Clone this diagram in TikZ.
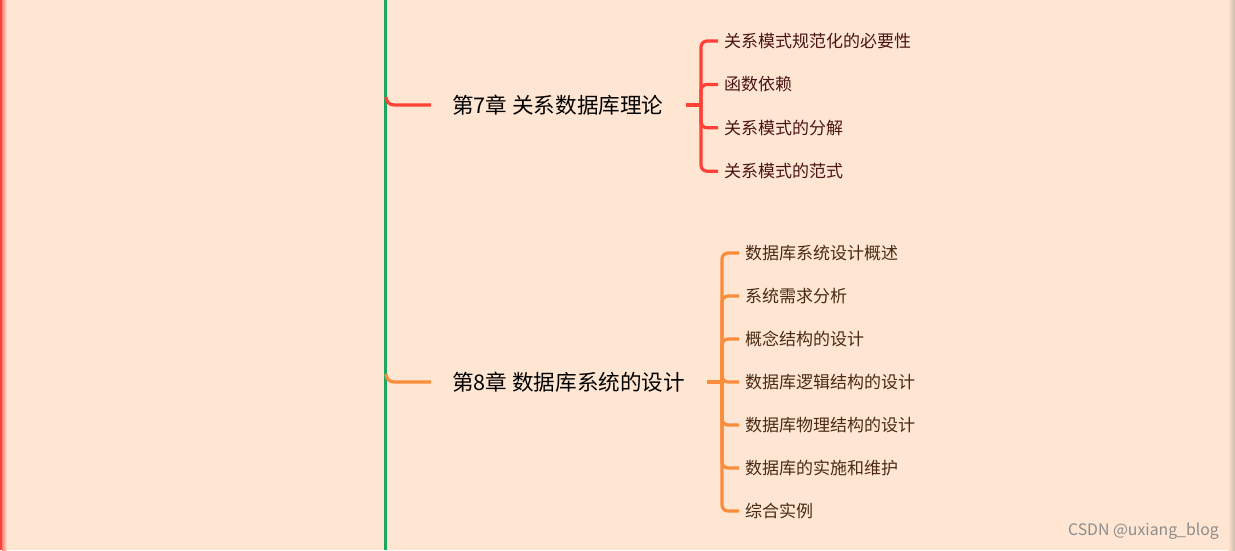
\documentclass[tikz,border=0pt]{standalone}
\usepackage{fontspec}
\newfontfamily\cjk{Noto Sans CJK SC}

\definecolor{bgpeach}{HTML}{FFE6D2}
\definecolor{trunkgreen}{HTML}{1BA85E}
\definecolor{redline}{HTML}{FF4136}
\definecolor{orangeline}{HTML}{FA8C3C}
\definecolor{redtext}{HTML}{4A1414}
\definecolor{orangetext}{HTML}{4A2A14}

\tikzset{
    chapter/.style={font=\cjk\fontsize{21.6}{26}\selectfont, anchor=west, inner sep=0pt, text=black},
    leaf/.style={font=\cjk\fontsize{17}{20}\selectfont, anchor=west, inner xsep=6pt, inner ysep=2pt},
    branch/.style={line width=3.2pt, rounded corners=8pt},
}

\begin{document}
\begin{tikzpicture}[x=1pt, y=-1pt]
    \useasboundingbox (0,0) rectangle (1235,550);
    \fill[bgpeach] (0,0) rectangle (1235,550);
    % 左右の縁
    \shade[left color=redline!60!bgpeach, right color=bgpeach] (2,0) rectangle (7,550);
    \fill[redline] (0,0) rectangle (2,550);
    \shade[left color=bgpeach, right color=black!20!bgpeach] (1228,0) rectangle (1235,550);

    % 幹
    \coordinate (top) at (385,0);
    \coordinate (bottom) at (385,550);
    \draw[trunkgreen, line width=3pt] (top) -- (bottom);

    % 第7章
    \node[chapter] (ch7) at (452,105) {第7章 关系数据库理论};
    \coordinate (t7) at (386,97);
    \coordinate (e7) at (431,105);
    \draw[branch, redline] (t7) |- (e7);
    \coordinate (s7) at (686,105);
    \coordinate (j7) at (701,105);
    \draw[branch, redline] (s7) -- (j7);
    \foreach \txt [count=\i] in {关系模式规范化的必要性, 函数依赖, 关系模式的分解, 关系模式的范式} {
        \node[leaf, text=redtext] (l7-\i) at (718, {41+43.4*(\i-1)}) {\txt};
        \draw[branch, redline, rounded corners=6pt] (j7) |- (l7-\i.west);
    }

    % 第8章
    \node[chapter] (ch8) at (452,382) {第8章 数据库系统的设计};
    \coordinate (t8) at (386,374);
    \coordinate (e8) at (431,382);
    \draw[branch, orangeline] (t8) |- (e8);
    \coordinate (s8) at (707,382);
    \coordinate (j8) at (722,382);
    \draw[branch, orangeline] (s8) -- (j8);
    \foreach \txt [count=\i] in {数据库系统设计概述, 系统需求分析, 概念结构的设计, 数据库逻辑结构的设计,
            数据库物理结构的设计, 数据库的实施和维护, 综合实例} {
        \node[leaf, text=orangetext] (l8-\i) at (739, {253+43*(\i-1)}) {\txt};
        \draw[branch, orangeline, rounded corners=6pt] (j8) |- (l8-\i.west);
    }

    % 透かし
    \node[font=\cjk\fontsize{15.8}{18}\selectfont, text=black!45, anchor=east, inner sep=0pt] (mark) at (1219,531) {CSDN @uxiang\_blog};
\end{tikzpicture}
\end{document}
